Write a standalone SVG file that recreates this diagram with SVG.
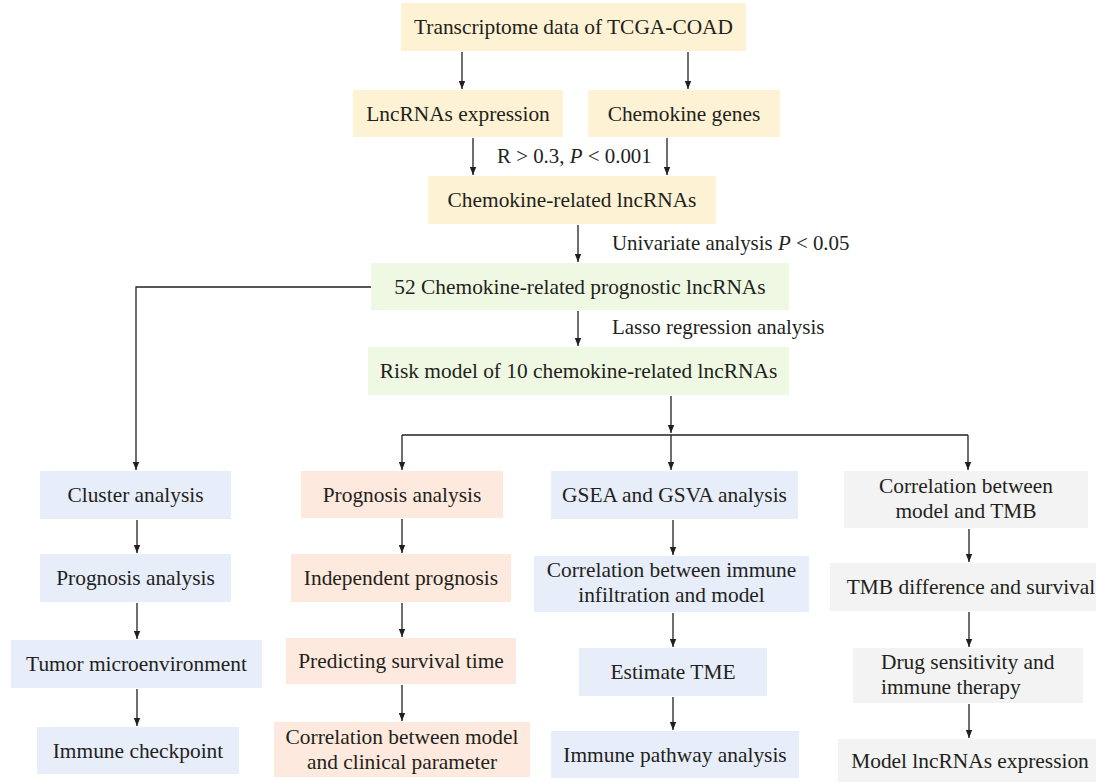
<svg xmlns="http://www.w3.org/2000/svg" width="1096" height="782" viewBox="0 0 1096 782">
<defs>
<marker id="ah" viewBox="0 0 10 8" markerWidth="8" markerHeight="7" refX="10" refY="4" orient="auto" markerUnits="userSpaceOnUse">
<path d="M0,0 L10,4 L0,8 z" fill="#231F20"/>
</marker>
<style>
text{font-family:"Liberation Serif","Times New Roman",serif;font-size:21.4px;fill:#231F20;text-anchor:middle}
.lab{text-anchor:start;font-size:20.9px}
.y{fill:#FDF2D3}
.g{fill:#EEF8E3}
.b{fill:#E7EDF9}
.o{fill:#FDE9DD}
.s{fill:#F2F3F2}
.c line,.c path{stroke:#231F20;stroke-width:1.3;fill:none}
.a{marker-end:url(#ah)}
</style>
</defs>
<rect width="1096" height="782" fill="#FFFFFF"/>

<g id="n_tcga"><rect class="y" x="401" y="3" width="345" height="48"/><text x="573.5" y="34">Transcriptome data of TCGA-COAD</text></g>
<g id="n_lnc"><rect class="y" x="353" y="90" width="210" height="47"/><text x="458" y="120.5">LncRNAs expression</text></g>
<g id="n_chemo"><rect class="y" x="588" y="90" width="192" height="47"/><text x="684" y="120.5">Chemokine genes</text></g>
<g id="n_chemrel"><rect class="y" x="428" y="176" width="288" height="48"/><text x="572" y="207">Chemokine-related lncRNAs</text></g>
<g id="n_52"><rect class="g" x="371" y="263" width="418" height="47"/><text x="580" y="293.5">52 Chemokine-related prognostic lncRNAs</text></g>
<g id="n_risk"><rect class="g" x="368" y="347" width="421" height="48"/><text x="578.5" y="378">Risk model of 10 chemokine-related lncRNAs</text></g>

<g id="n_cluster"><rect class="b" x="40" y="471" width="191" height="48"/><text x="135.5" y="502">Cluster analysis</text></g>
<g id="n_prog1"><rect class="b" x="40" y="554" width="191" height="48"/><text x="135.5" y="585">Prognosis analysis</text></g>
<g id="n_tme1"><rect class="b" x="11" y="640" width="251" height="48"/><text x="136.5" y="671">Tumor microenvironment</text></g>
<g id="n_icp"><rect class="b" x="37" y="727" width="202" height="47"/><text x="138" y="757.5">Immune checkpoint</text></g>

<g id="n_prog2"><rect class="o" x="301" y="471" width="202" height="47"/><text x="402" y="501.5">Prognosis analysis</text></g>
<g id="n_indep"><rect class="o" x="291" y="554" width="220" height="48"/><text x="401" y="585">Independent prognosis</text></g>
<g id="n_predict"><rect class="o" x="286" y="638" width="230" height="46"/><text x="401" y="668">Predicting survival time</text></g>
<g id="n_clin"><rect class="o" x="274" y="722" width="256" height="55"/><text x="402" y="744">Correlation between model</text><text x="402" y="769">and clinical parameter</text></g>

<g id="n_gsea"><rect class="b" x="551" y="471" width="247" height="48"/><text x="674.5" y="502">GSEA and GSVA analysis</text></g>
<g id="n_corrimm"><rect class="b" x="534" y="556" width="275" height="56"/><text x="671.5" y="577">Correlation between immune</text><text x="671.5" y="602">infiltration and model</text></g>
<g id="n_estimate"><rect class="b" x="579" y="648" width="188" height="48"/><text x="673" y="679">Estimate TME</text></g>
<g id="n_pathway"><rect class="b" x="551" y="731" width="248" height="47"/><text x="675" y="761.5">Immune pathway analysis</text></g>

<g id="n_corrtmb"><rect class="s" x="844" y="471" width="244" height="57"/><text x="966" y="492.5">Correlation between</text><text x="966" y="517.5">model and TMB</text></g>
<g id="n_tmbdiff"><rect class="s" x="830" y="563" width="266" height="48"/><text x="971" y="594">TMB difference and survival</text></g>
<g id="n_drug"><rect class="s" x="853" y="648" width="230" height="55"/><text x="881" y="669" style="text-anchor:start">Drug sensitivity and</text><text x="881" y="694" style="text-anchor:start">immune therapy</text></g>
<g id="n_modelexp"><rect class="s" x="838" y="739" width="258" height="43"/><text x="970" y="767.5">Model lncRNAs expression</text></g>

<g id="labels">
<text class="lab" x="497" y="163">R &gt; 0.3, <tspan font-style="italic">P</tspan> &lt; 0.001</text>
<text class="lab" x="612" y="250">Univariate analysis <tspan font-style="italic">P</tspan> &lt; 0.05</text>
<text class="lab" x="612" y="334">Lasso regression analysis</text>
</g>

<g id="connectors" class="c">
<line class="a" x1="462" y1="52" x2="462" y2="89"/>
<line class="a" x1="688" y1="52" x2="688" y2="89"/>
<line class="a" x1="473" y1="138" x2="473" y2="175"/>
<line class="a" x1="667" y1="138" x2="667" y2="175"/>
<line class="a" x1="578" y1="225" x2="578" y2="262"/>
<path class="a" d="M371,287 H136 V470"/>
<line class="a" x1="578" y1="311" x2="578" y2="346"/>
<line class="a" x1="671" y1="396" x2="671" y2="433"/>
<path d="M402,435 H968"/>
<line class="a" x1="402" y1="435" x2="402" y2="470"/>
<line class="a" x1="671" y1="435" x2="671" y2="470"/>
<line class="a" x1="968" y1="435" x2="968" y2="470"/>
<line class="a" x1="137" y1="520" x2="137" y2="553"/>
<line class="a" x1="137" y1="603" x2="137" y2="639"/>
<line class="a" x1="137" y1="689" x2="137" y2="726"/>
<line class="a" x1="402" y1="519" x2="402" y2="553"/>
<line class="a" x1="402" y1="603" x2="402" y2="637"/>
<line class="a" x1="402" y1="685" x2="402" y2="721"/>
<line class="a" x1="673" y1="520" x2="673" y2="555"/>
<line class="a" x1="673" y1="613" x2="673" y2="647"/>
<line class="a" x1="673" y1="697" x2="673" y2="730"/>
<line class="a" x1="969" y1="529" x2="969" y2="562"/>
<line class="a" x1="969" y1="612" x2="969" y2="647"/>
<line class="a" x1="969" y1="704" x2="969" y2="738"/>
</g>
</svg>
